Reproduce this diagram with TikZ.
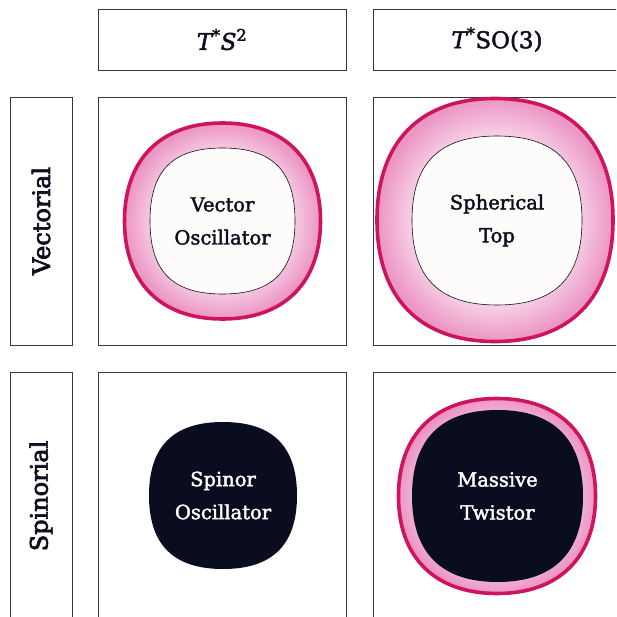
\documentclass[tikz,border=0pt]{standalone}
\usepackage{fontspec}
\setmainfont{DejaVu Serif}
\newfontfamily\heavyserif{DejaVu Serif}[FakeBold=3]
\newfontfamily\midserif{DejaVu Serif}[FakeBold=2]
\newfontfamily\miditalic{DejaVu Serif Italic}[FakeBold=2]
\definecolor{crimson}{RGB}{206,20,94}
\definecolor{pinkA}{RGB}{236,150,196}
\definecolor{pinkB}{RGB}{246,205,228}
\definecolor{darkfill}{RGB}{10,12,32}
\definecolor{innerwhite}{RGB}{253,252,250}
\definecolor{boxline}{RGB}{55,55,70}
\definecolor{txt}{RGB}{14,14,30}
\pgfdeclareradialshading{ringshade}{\pgfpoint{0bp}{0bp}}{color(0bp)=(pinkB); color(18bp)=(pinkB); color(25bp)=(pinkA); color(50bp)=(pinkA)}
\newcommand{\sqpath}[3]{(#1,0) .. controls (#1,#3*#2) and (#3*#1,#2) .. (0,#2) .. controls (-#3*#1,#2) and (-#1,#3*#2) .. (-#1,0) .. controls (-#1,-#3*#2) and (-#3*#1,-#2) .. (0,-#2) .. controls (#3*#1,-#2) and (#1,-#3*#2) .. (#1,0) -- cycle}
\tikzset{
  cellbox/.style={draw=boxline, line width=0.9pt, fill=white, rectangle, inner sep=0pt},
  headtext/.style={text=txt, font=\fontsize{23}{27}\selectfont, align=center},
  sidetext/.style={text=txt, font=\heavyserif\fontsize{24}{28}\selectfont, align=center},
  ringblob/.style={draw=crimson, line width=3.6pt, shading=ringshade},
  whiteblob/.style={draw=txt, line width=0.6pt, fill=innerwhite},
  darkblob/.style={fill=darkfill},
  bodytext/.style={font=\midserif\fontsize{19.5}{33}\selectfont, align=center},
}
\begin{document}
\begin{tikzpicture}[x=1pt,y=-1pt]
\useasboundingbox (0,0) rectangle (616,617);
\clip (0,0) rectangle (616,617);
\fill[white] (0,0) rectangle (616,617);
% header boxes
\node[cellbox, minimum width=248pt, minimum height=61pt] (h1) at (222,39.5) {};
\node[headtext] (h1t) at (h1.center) {{\miditalic T}\textsuperscript{\midserif*}{\miditalic S}\textsuperscript{\midserif 2}};
\node[cellbox, minimum width=248pt, minimum height=61pt] (h2) at (497,39.5) {};
\node[headtext] (h2t) at (h2.center) {{\miditalic T}\textsuperscript{\midserif*}{\midserif SO(3)}};
% row label boxes
\node[cellbox, minimum width=62pt, minimum height=248pt] (r1) at (41,221) {};
\node[sidetext, rotate=90] (r1t) at (r1.center) {Vectorial};
\node[cellbox, minimum width=62pt, minimum height=248pt] (r2) at (41,496) {};
\node[sidetext, rotate=90] (r2t) at (r2.center) {Spinorial};
% cells
\node[cellbox, minimum width=248pt, minimum height=248pt] (c11) at (222,221) {};
\node[cellbox, minimum width=248pt, minimum height=248pt] (c12) at (497,221) {};
\node[cellbox, minimum width=248pt, minimum height=248pt] (c21) at (222,496) {};
\node[cellbox, minimum width=248pt, minimum height=248pt] (c22) at (497,496) {};
% cell 1,1
\path[ringblob, shift={(222.5,221)}] \sqpath{98}{98}{0.63};
\path[whiteblob, shift={(222.5,221)}] \sqpath{72.5}{73}{0.69};
\node[bodytext, text=txt] (t11) at (222.5,221) {Vector\\Oscillator};
% cell 1,2
\path[ringblob, shift={(495,220)}] \sqpath{118}{121.5}{0.64};
\path[whiteblob, shift={(497,220.5)}] \sqpath{85}{84.5}{0.68};
\node[bodytext, text=txt] (t12) at (497,220.5) {Spherical\\Top};
% cell 2,1
\path[darkblob, shift={(223,495.5)}] \sqpath{74}{73.5}{0.67};
\node[bodytext, text=white] (t21) at (223,495.5) {Spinor\\Oscillator};
% cell 2,2
\path[ringblob, shift={(497,496)}] \sqpath{98.5}{97.5}{0.63};
\path[darkblob, shift={(497.5,496)}] \sqpath{85.5}{86}{0.66};
\node[bodytext, text=white] (t22) at (497.5,496) {Massive\\Twistor};
\end{tikzpicture}
\end{document}
